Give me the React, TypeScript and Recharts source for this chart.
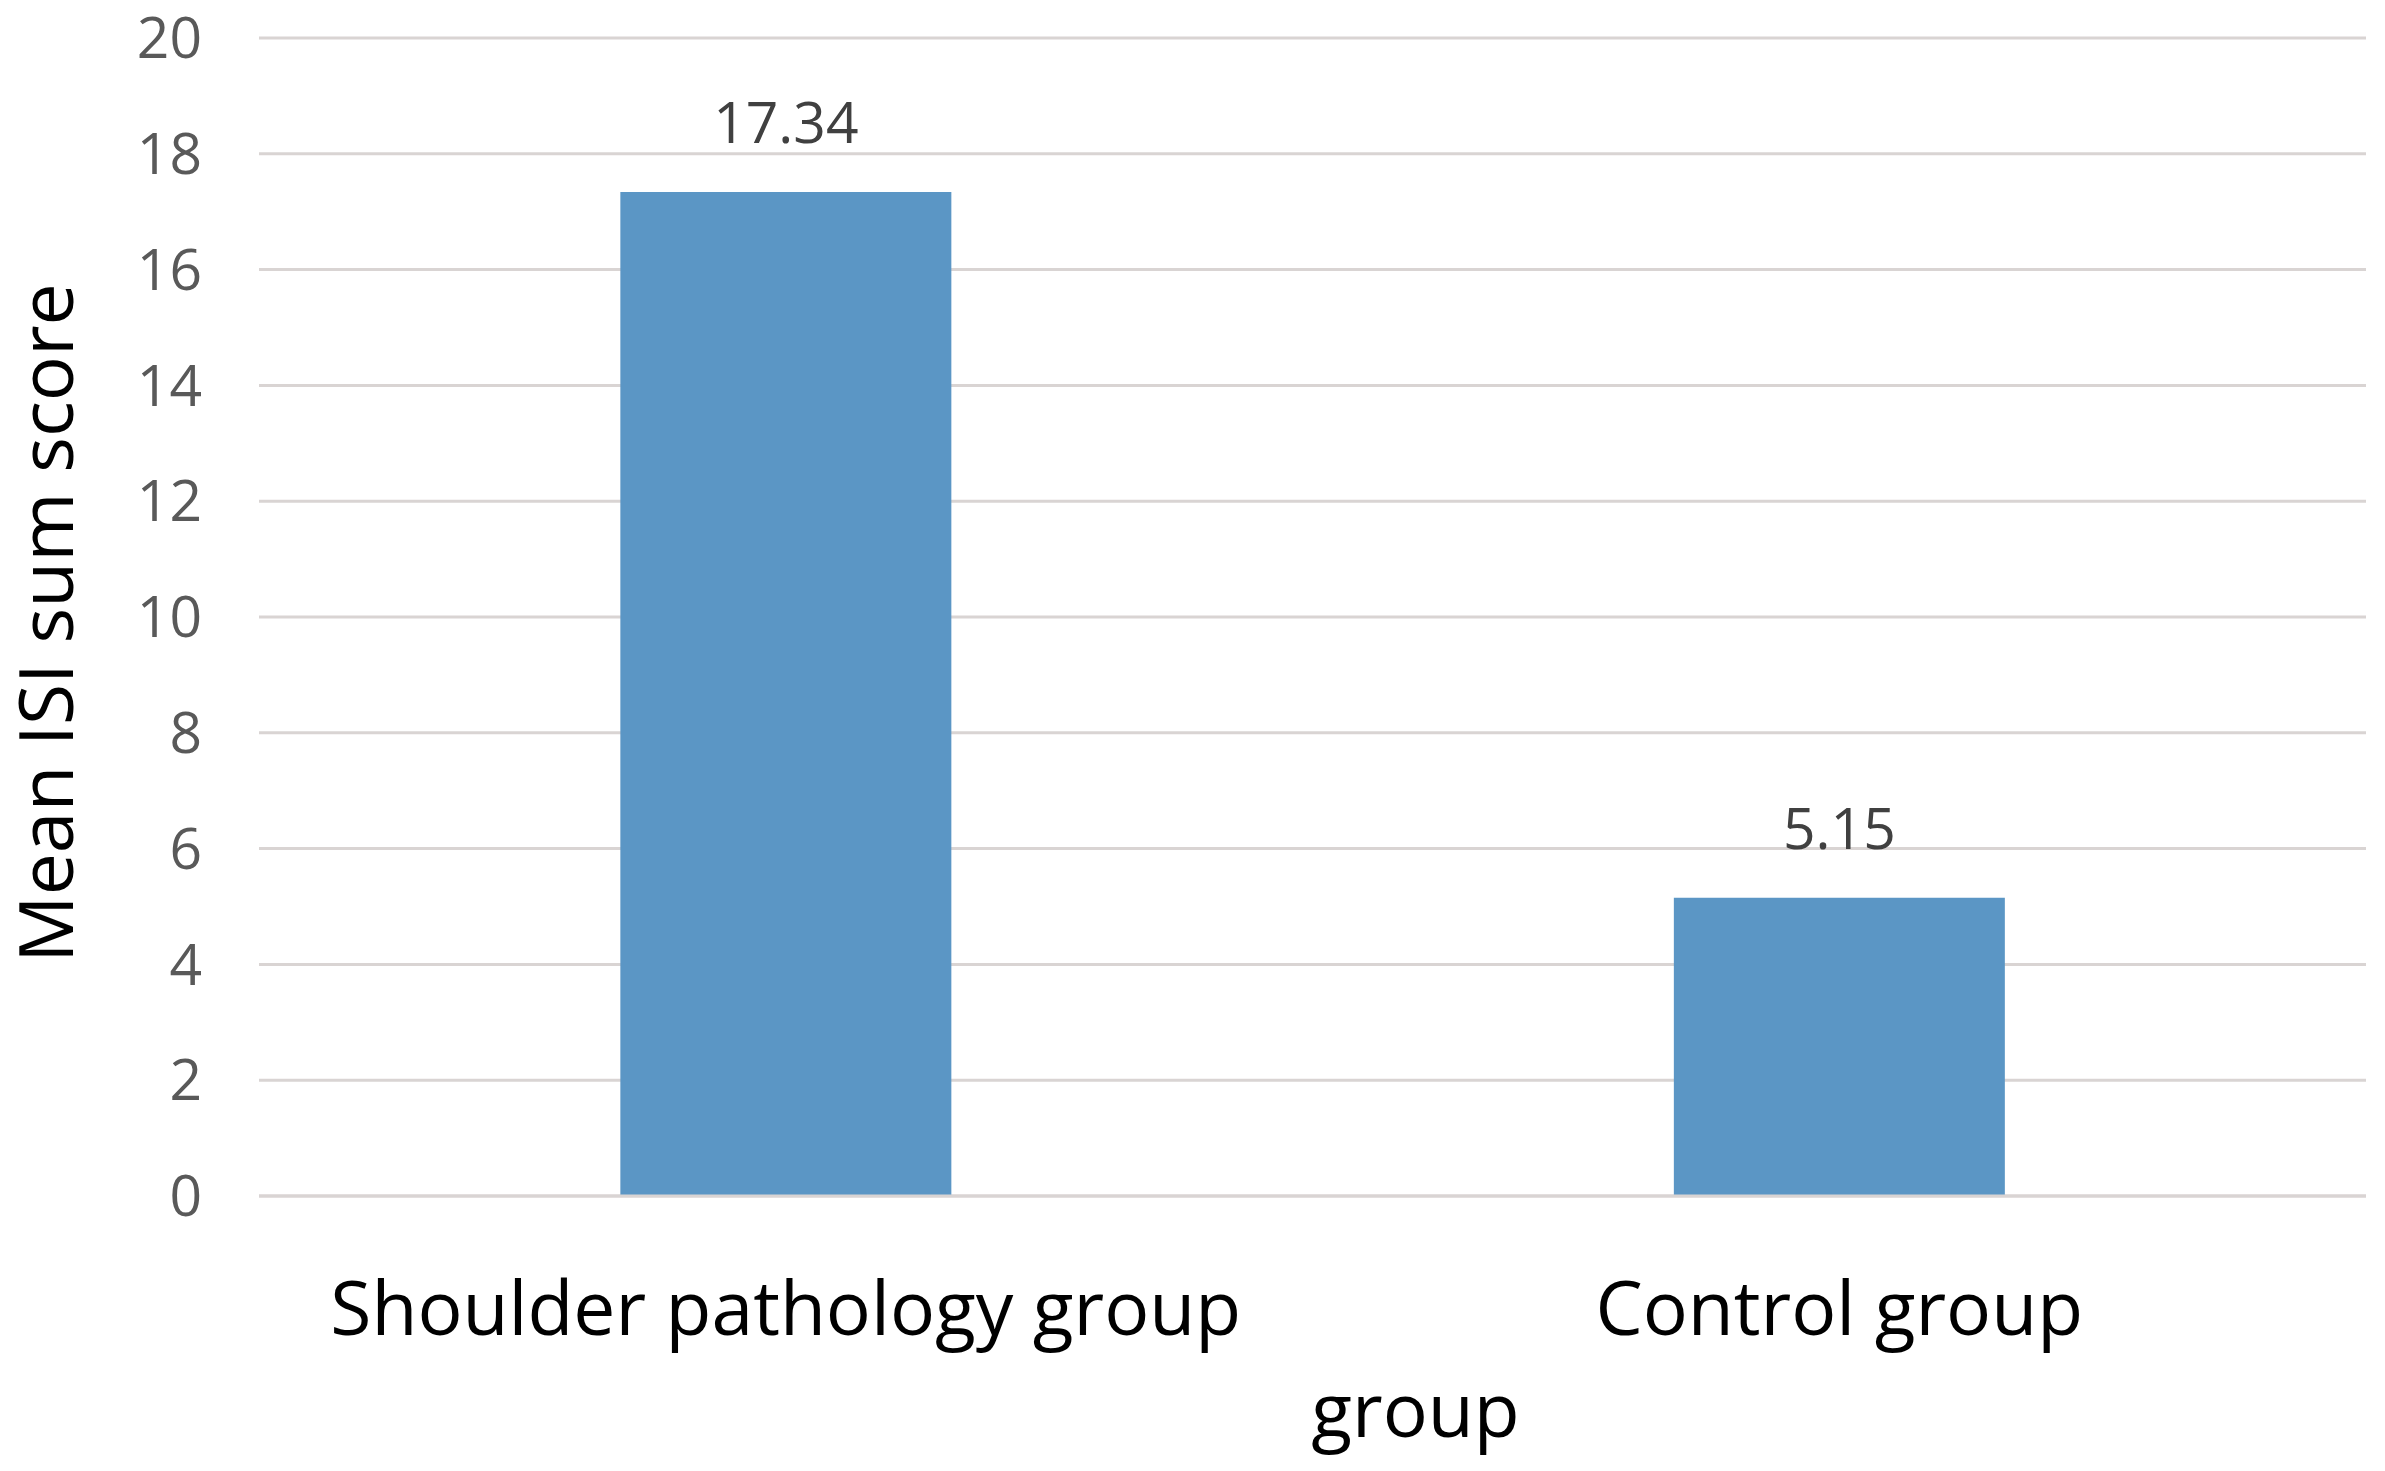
import React from 'react';
import { BarChart, Bar, XAxis, YAxis, CartesianGrid, LabelList, Label } from 'recharts';

const categories = ['Shoulder pathology group', 'Control group'];
const meanIsiSumScore = [17.34, 5.15];
const yTicks = [0, 2, 4, 6, 8, 10, 12, 14, 16, 18, 20];
const xAxisTitle = 'group';
const yAxisTitle = 'Mean ISI sum score';

const data = categories.map((group, i) => ({ group, value: meanIsiSumScore[i] }));

const FONT = '"Open Sans", sans-serif';
const GRID = '#d9d4d3';

const XTitle = (props: any) => {
  const vb = props.viewBox || { x: 259, y: 1196, width: 2106, height: 275 };
  return (
    <text
      x={vb.x + vb.width / 2 + 103}
      y={vb.y + 241}
      textAnchor="middle"
      fill="#000"
      fontSize={75}
      fontFamily={FONT}
    >
      {xAxisTitle}
    </text>
  );
};

const YTitle = (props: any) => {
  const vb = props.viewBox || { x: 0, y: 38, width: 259, height: 1158 };
  const x = vb.x + 73;
  const y = vb.y + vb.height / 2 + 6;
  return (
    <text
      x={x}
      y={y}
      transform={`rotate(-90, ${x}, ${y})`}
      textAnchor="middle"
      fill="#000"
      fontSize={75}
      fontFamily={FONT}
    >
      {yAxisTitle}
    </text>
  );
};

export default function App() {
  return (
    <div style={{ position: 'absolute', left: 0, top: 0, width: 2385, height: 1471, background: '#fff' }}>
      <BarChart
        width={2385}
        height={1471}
        data={data}
        margin={{ top: 38, right: 19, bottom: 0, left: 0 }}
        barCategoryGap="34.3%"
      >
        <CartesianGrid horizontal vertical={false} stroke={GRID} strokeWidth={3} />
        <XAxis
          dataKey="group"
          height={275}
          interval={0}
          axisLine={{ stroke: GRID, strokeWidth: 3 }}
          tickLine={false}
          tickSize={0}
          tickMargin={86}
          tick={{ fill: '#000', fontSize: 75, fontFamily: FONT }}
        >
          <Label content={XTitle} />
        </XAxis>
        <YAxis
          width={259}
          domain={[0, 20]}
          ticks={yTicks}
          interval={0}
          axisLine={false}
          tickLine={false}
          tickSize={0}
          tickMargin={57}
          tick={{ fill: '#595959', fontSize: 57, fontFamily: FONT }}
        >
          <Label content={YTitle} />
        </YAxis>
        <Bar dataKey="value" fill="#5b96c5" isAnimationActive={false}>
          <LabelList
            dataKey="value"
            position="top"
            offset={49}
            fill="#404040"
            fontSize={57}
            fontFamily={FONT}
            formatter={(v: any) => Number(v).toFixed(2)}
          />
        </Bar>
      </BarChart>
    </div>
  );
}
